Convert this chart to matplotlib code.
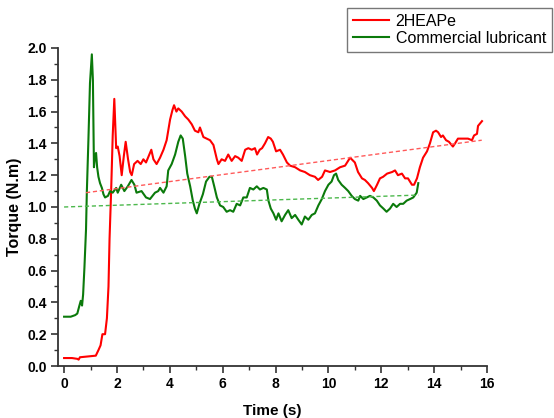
import matplotlib
matplotlib.use("Agg")
import matplotlib.pyplot as plt
from matplotlib.ticker import MultipleLocator, FormatStrFormatter

# torque traces
red_t = [0, 0.3, 0.5, 0.55, 0.6, 0.9, 1.2, 1.3, 1.38, 1.45, 1.55, 1.62, 1.68, 1.72, 1.78,
         1.84, 1.90, 1.97, 2.03, 2.1, 2.18, 2.26, 2.33, 2.42, 2.5, 2.56, 2.65, 2.78, 2.9,
         3.0, 3.1, 3.2, 3.3, 3.38, 3.5, 3.63, 3.76, 3.88, 4.01, 4.1, 4.16, 4.25, 4.32,
         4.45, 4.58, 4.70, 4.83, 4.95, 5.08, 5.14, 5.27, 5.40, 5.52, 5.65, 5.78, 5.84,
         5.96, 6.09, 6.21, 6.34, 6.47, 6.59, 6.72, 6.85, 6.97, 7.10, 7.22, 7.30, 7.40,
         7.49, 7.6, 7.72, 7.82, 7.90, 8.02, 8.17, 8.28, 8.43, 8.55, 8.74, 8.93, 9.11,
         9.30, 9.49, 9.61, 9.76, 9.87, 10.06, 10.25, 10.44, 10.63, 10.82, 11.0, 11.12,
         11.27, 11.38, 11.5, 11.65, 11.72, 11.84, 11.95, 12.07, 12.22, 12.41, 12.52,
         12.63, 12.78, 12.9, 13.01, 13.16, 13.24, 13.35, 13.46, 13.58, 13.73, 13.84,
         13.96, 14.07, 14.15, 14.26, 14.33, 14.45, 14.56, 14.71, 14.79, 14.9, 15.09,
         15.28, 15.43, 15.51, 15.62, 15.66, 15.81]
red_y = [0.05, 0.05, 0.045, 0.04, 0.055, 0.06, 0.065, 0.1, 0.13, 0.2, 0.2, 0.3, 0.5, 0.8,
         1.1, 1.45, 1.68, 1.37, 1.38, 1.32, 1.2, 1.32, 1.41, 1.30, 1.22, 1.2, 1.27, 1.29,
         1.27, 1.3, 1.28, 1.32, 1.36, 1.30, 1.27, 1.31, 1.36, 1.42, 1.55, 1.61, 1.64,
         1.60, 1.62, 1.60, 1.57, 1.55, 1.52, 1.48, 1.47, 1.50, 1.44, 1.43, 1.42, 1.39,
         1.30, 1.27, 1.30, 1.29, 1.33, 1.29, 1.32, 1.31, 1.29, 1.36, 1.37, 1.36, 1.37,
         1.33, 1.36, 1.37, 1.40, 1.44, 1.43, 1.41, 1.35, 1.36, 1.33, 1.28, 1.26, 1.25,
         1.23, 1.22, 1.20, 1.19, 1.17, 1.19, 1.23, 1.22, 1.23, 1.25, 1.26, 1.31, 1.28,
         1.22, 1.18, 1.17, 1.15, 1.12, 1.10, 1.14, 1.18, 1.19, 1.21, 1.22, 1.23, 1.20,
         1.21, 1.18, 1.18, 1.14, 1.14, 1.18, 1.25, 1.31, 1.35, 1.40, 1.47, 1.48, 1.47,
         1.44, 1.45, 1.42, 1.41, 1.38, 1.40, 1.43, 1.43, 1.43, 1.42, 1.45, 1.46, 1.51,
         1.54]

green_t = [0, 0.25, 0.42, 0.5, 0.58, 0.63, 0.68, 0.72, 0.77, 0.83, 0.86, 0.92, 0.98, 1.05,
           1.09, 1.13, 1.17, 1.21, 1.25, 1.30, 1.36, 1.43, 1.49, 1.55, 1.66, 1.74, 1.84,
           1.97, 2.03, 2.16, 2.28, 2.41, 2.55, 2.66, 2.74, 2.93, 3.1, 3.25, 3.44, 3.56,
           3.63, 3.76, 3.88, 3.94, 4.07, 4.2, 4.32, 4.41, 4.49, 4.58, 4.66, 4.77, 4.87,
           4.95, 5.02, 5.12, 5.25, 5.37, 5.50, 5.59, 5.68, 5.78, 5.9, 6.02, 6.15, 6.28,
           6.40, 6.53, 6.66, 6.78, 6.91, 7.03, 7.16, 7.29, 7.41, 7.54, 7.67, 7.73, 7.82,
           7.92, 8.02, 8.11, 8.23, 8.36, 8.48, 8.61, 8.74, 8.86, 8.99, 9.11, 9.24, 9.37,
           9.49, 9.62, 9.75, 9.87, 10.0, 10.12, 10.21, 10.29, 10.37, 10.50, 10.63, 10.75,
           10.88, 11.0, 11.13, 11.2, 11.32, 11.45, 11.57, 11.7, 11.83, 11.95, 12.08, 12.2,
           12.33, 12.45, 12.58, 12.71, 12.83, 12.96, 13.09, 13.21, 13.34, 13.40]
green_y = [0.31, 0.31, 0.32, 0.33, 0.38, 0.41, 0.38, 0.45, 0.62, 0.86, 1.09, 1.42, 1.78,
           1.96, 1.80, 1.25, 1.32, 1.34, 1.25, 1.19, 1.15, 1.12, 1.08, 1.06, 1.07, 1.10,
           1.09, 1.12, 1.09, 1.14, 1.10, 1.13, 1.17, 1.14, 1.09, 1.10, 1.06, 1.05, 1.09,
           1.10, 1.12, 1.09, 1.13, 1.23, 1.27, 1.33, 1.41, 1.45, 1.43, 1.32, 1.21, 1.13,
           1.04, 0.99, 0.96, 1.02, 1.08, 1.16, 1.19, 1.19, 1.13, 1.06, 1.01, 1.00, 0.97,
           0.98, 0.97, 1.02, 1.01, 1.06, 1.06, 1.12, 1.11, 1.13, 1.11, 1.12, 1.11, 1.04,
           0.99, 0.96, 0.92, 0.96, 0.91, 0.95, 0.98, 0.93, 0.95, 0.92, 0.89, 0.94, 0.92,
           0.95, 0.96, 1.01, 1.05, 1.10, 1.14, 1.16, 1.20, 1.21, 1.17, 1.14, 1.12, 1.10,
           1.07, 1.05, 1.04, 1.07, 1.05, 1.06, 1.07, 1.06, 1.04, 1.01, 0.99, 0.97, 0.99,
           1.02, 1.00, 1.02, 1.02, 1.04, 1.05, 1.06, 1.09, 1.15]

# linear trend lines (end points)
red_fit_t = [0.83, 15.8]
red_fit_y = [1.09, 1.42]
green_fit_t = [0.0, 13.4]
green_fit_y = [1.00, 1.075]

plt.rcParams['font.family'] = ['Liberation Sans', 'DejaVu Sans']

fig = plt.figure(figsize=(5.54, 4.18), dpi=100)
ax = fig.add_axes([0.1047, 0.1244, 0.7744, 0.7608])

l1, = ax.plot(red_t, red_y, color='#ff0000', lw=1.5, label='2HEAPe')
l2, = ax.plot(green_t, green_y, color='#0b7a0b', lw=1.5, label='Commercial lubricant')
ax.plot(red_fit_t, red_fit_y, color='#ff5a5a', lw=1.0, linestyle=(0, (3, 2)))
ax.plot(green_fit_t, green_fit_y, color='#4cb84c', lw=1.0, linestyle=(0, (3, 2)))

ax.xaxis.set_major_locator(MultipleLocator(2))
ax.xaxis.set_minor_locator(MultipleLocator(1))
ax.yaxis.set_major_locator(MultipleLocator(0.2))
ax.yaxis.set_minor_locator(MultipleLocator(0.1))
ax.yaxis.set_major_formatter(FormatStrFormatter('%.1f'))
ax.set_xlim(-0.23, 16)
ax.set_ylim(0, 2.0)

for side in ['top', 'right']:
    ax.spines[side].set_visible(False)
for side in ['left', 'bottom']:
    ax.spines[side].set_linewidth(1.3)
    ax.spines[side].set_color('#333333')

ax.tick_params(which='major', direction='out', length=5, width=1.2, color='#333333',
               labelsize=10, pad=3)
ax.tick_params(which='minor', direction='out', length=3, width=1.0, color='#333333')
for lab in ax.get_xticklabels() + ax.get_yticklabels():
    lab.set_fontweight('bold')

ax.set_xlabel('Time (s)', fontsize=11, fontweight='bold', labelpad=9)
ax.set_ylabel('Torque (N.m)', fontsize=11.5, fontweight='bold', labelpad=4)

leg = fig.legend(handles=[l1, l2], loc='upper left', bbox_to_anchor=(0.612, 1.0),
                 fontsize=11.5, frameon=True, fancybox=False, handlelength=2.3,
                 borderpad=0.35, labelspacing=0.15, handletextpad=0.4)
leg.get_frame().set_edgecolor('#555555')
leg.get_frame().set_linewidth(1.0)

fig.savefig('out.png', dpi=100)
